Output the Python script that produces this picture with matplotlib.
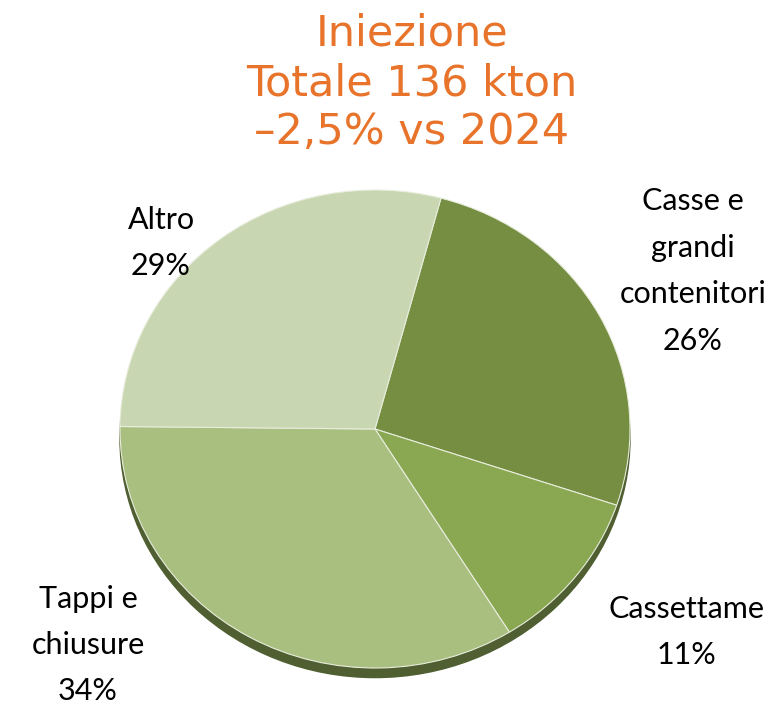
import matplotlib.pyplot as plt
from matplotlib.patches import Ellipse

# data
categories = ['Casse e\ngrandi\ncontenitori', 'Cassettame', 'Tappi e\nchiusure', 'Altro']
shares = [26, 11, 34, 29]
colors = ['#758e41', '#8aa751', '#a9bf80', '#c8d6b1']
title_lines = ['Iniezione', 'Totale 136 kton', '\u20132,5% vs 2024']

W, H = 783, 704
fig = plt.figure(figsize=(W / 100, H / 100), dpi=100)

# pie centre / radii in pixels (slightly squashed like the original)
cx, cy, rx, ry = 375, 429, 255, 239
lim = 1.25
ax = fig.add_axes([(cx - rx * lim) / W, (H - cy - ry * lim) / H,
                   2 * rx * lim / W, 2 * ry * lim / H])
ax.set_xlim(-lim, lim)
ax.set_ylim(-lim, lim)
ax.axis('off')

# shadow under the pie
ax.add_patch(Ellipse((0, -0.04), 2.0, 2.0, color='#4f5f31', zorder=0))

wedges, _ = ax.pie(shares, colors=colors, startangle=75, counterclock=False,
                   radius=1, wedgeprops=dict(edgecolor='#e8eddc', linewidth=0.8))
ax.set_aspect('auto')

# labels in pixel positions
lab_pos = [(693, 271), (686, 632), (88, 645), (161, 243)]
for name, val, (px, py) in zip(categories, shares, lab_pos):
    fig.text(px / W, 1 - py / H, f'{name}\n{val}%', ha='center', va='center',
             fontsize=22, family='Lato', linespacing=1.8, color='black')

fig.text(412 / W, 1 - 83 / H, '\n'.join(title_lines), ha='center', va='center',
         fontsize=31, family='DejaVu Sans', color='#e8732a', linespacing=1.22)

fig.savefig('out.png', dpi=100)
